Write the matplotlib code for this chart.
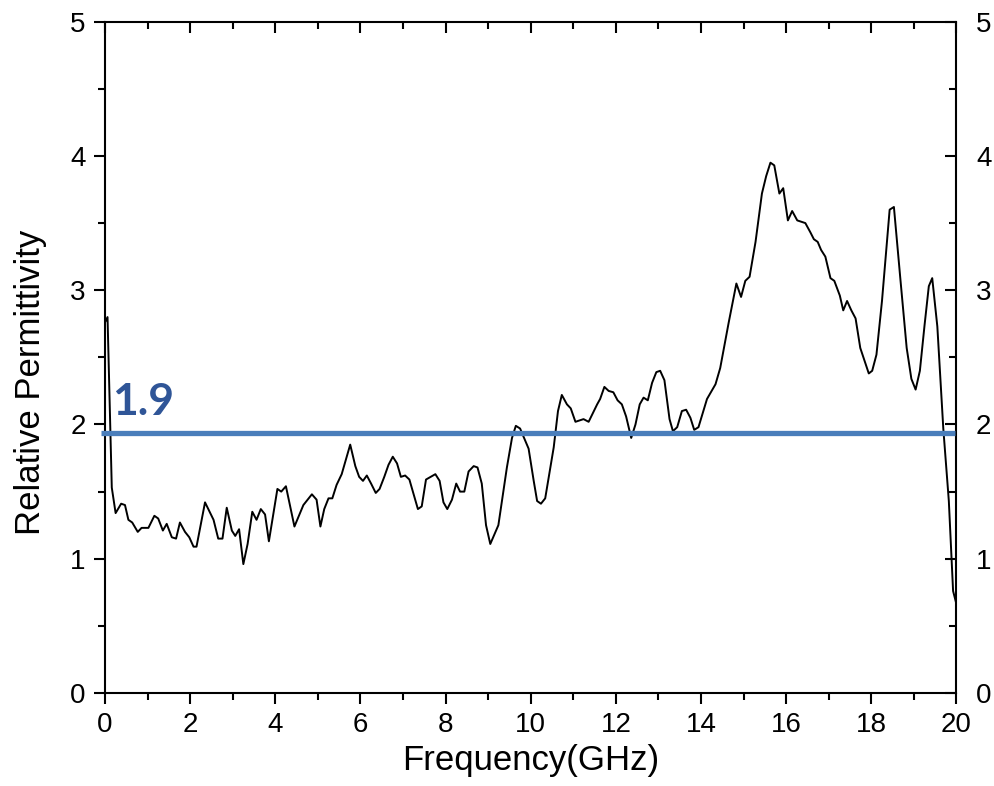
import matplotlib
matplotlib.use("Agg")
import matplotlib.pyplot as plt
from matplotlib.ticker import MultipleLocator

plt.rcParams['font.family'] = ['Liberation Sans', 'DejaVu Sans']

freq = [0.00, 0.06, 0.16, 0.25, 0.38, 0.47, 0.55, 0.64, 0.77, 0.86, 1.02, 1.16, 1.25, 1.36, 1.45,
        1.57, 1.67, 1.76, 1.88, 1.98, 2.08, 2.15, 2.35, 2.55, 2.66, 2.76, 2.86, 2.98, 3.06, 3.15,
        3.25, 3.35, 3.46, 3.56, 3.66, 3.76, 3.85, 4.05, 4.14, 4.25, 4.45, 4.66, 4.86, 4.97, 5.06,
        5.15, 5.25, 5.34, 5.44, 5.56, 5.76, 5.88, 5.97, 6.06, 6.15, 6.25, 6.36, 6.45, 6.56, 6.66,
        6.76, 6.86, 6.95, 7.05, 7.15, 7.25, 7.35, 7.44, 7.54, 7.65, 7.76, 7.86, 7.95, 8.04, 8.15,
        8.25, 8.34, 8.44, 8.54, 8.66, 8.75, 8.85, 8.95, 9.05, 9.24, 9.44, 9.56, 9.65, 9.75, 9.95,
        10.07, 10.15, 10.24, 10.34, 10.54, 10.64, 10.73, 10.85, 10.94, 11.05, 11.24, 11.36, 11.56,
        11.63, 11.73, 11.83, 11.94, 12.04, 12.14, 12.24, 12.36, 12.46, 12.56, 12.65, 12.75, 12.85,
        12.95, 13.04, 13.14, 13.26, 13.34, 13.44, 13.55, 13.65, 13.75, 13.84, 13.94, 14.14, 14.34,
        14.45, 14.65, 14.83, 14.94, 15.04, 15.14, 15.28, 15.43, 15.53, 15.63, 15.72, 15.84, 15.93,
        16.04, 16.14, 16.26, 16.45, 16.57, 16.65, 16.74, 16.82, 16.92, 17.04, 17.13, 17.26, 17.34,
        17.43, 17.53, 17.63, 17.74, 17.94, 18.02, 18.12, 18.25, 18.43, 18.53, 18.68, 18.83, 18.94,
        19.04, 19.14, 19.25, 19.35, 19.43, 19.55, 19.69, 19.82, 19.92, 20.00]
permittivity = [2.76, 2.80, 1.53, 1.34, 1.41, 1.40, 1.29, 1.27, 1.20, 1.23, 1.23, 1.32, 1.30, 1.21, 1.26,
                1.16, 1.15, 1.27, 1.20, 1.16, 1.09, 1.09, 1.42, 1.29, 1.15, 1.15, 1.38, 1.21, 1.17, 1.22,
                0.96, 1.11, 1.35, 1.29, 1.37, 1.33, 1.13, 1.52, 1.50, 1.54, 1.24, 1.40, 1.48, 1.44, 1.24,
                1.37, 1.45, 1.45, 1.55, 1.63, 1.85, 1.69, 1.61, 1.58, 1.62, 1.56, 1.49, 1.52, 1.61, 1.70,
                1.76, 1.71, 1.61, 1.62, 1.59, 1.48, 1.37, 1.39, 1.59, 1.61, 1.63, 1.58, 1.42, 1.37, 1.44,
                1.56, 1.50, 1.50, 1.65, 1.69, 1.68, 1.56, 1.25, 1.11, 1.25, 1.68, 1.90, 1.99, 1.97, 1.82,
                1.58, 1.43, 1.41, 1.45, 1.83, 2.10, 2.22, 2.15, 2.12, 2.02, 2.04, 2.02, 2.15,
                2.19, 2.28, 2.25, 2.24, 2.18, 2.15, 2.06, 1.90, 2.00, 2.15, 2.20, 2.18, 2.31,
                2.39, 2.40, 2.33, 2.04, 1.95, 1.98, 2.10, 2.11, 2.05, 1.96, 1.98, 2.19, 2.30,
                2.42, 2.76, 3.05, 2.95, 3.07, 3.10, 3.36, 3.72, 3.85, 3.95, 3.93, 3.72, 3.76,
                3.52, 3.59, 3.52, 3.50, 3.43, 3.38, 3.36, 3.30, 3.25, 3.09, 3.07, 2.96, 2.85,
                2.92, 2.85, 2.79, 2.57, 2.38, 2.40, 2.52, 2.92, 3.60, 3.62, 3.09, 2.57, 2.34,
                2.26, 2.40, 2.74, 3.03, 3.09, 2.73, 1.97, 1.43, 0.76, 0.66]

ref_value = 1.936
ref_label = "1.9"

fig = plt.figure(figsize=(9.95, 7.86), dpi=100)
ax = fig.add_axes([0.1055, 0.1183, 0.8558, 0.8541])

ax.plot(freq, permittivity, color='black', lw=1.4, zorder=3)
ax.plot([-0.1, 19.97], [ref_value, ref_value], color='#4A7EBB', lw=3.8, clip_on=False, zorder=4,
        solid_capstyle='butt')
ax.text(0.17, 2.07, ref_label, color='#2F5597', fontsize=32, fontweight='bold', family=['Lato', 'DejaVu Sans'],
        ha='left', va='baseline', zorder=5)

ax.set_xlim(0, 20)
ax.set_ylim(0, 5)
ax.xaxis.set_major_locator(MultipleLocator(2))
ax.xaxis.set_minor_locator(MultipleLocator(1))
ax.yaxis.set_major_locator(MultipleLocator(1))
ax.yaxis.set_minor_locator(MultipleLocator(0.5))

for s in ax.spines.values():
    s.set_linewidth(1.5)

ax.tick_params(axis='both', which='major', direction='out', length=8, width=1.5, labelsize=20, pad=6)
ax.tick_params(axis='both', which='minor', direction='out', length=5, width=1.5)
ax.tick_params(axis='x', which='both', top=True, labeltop=False)
ax.tick_params(axis='y', which='both', right=True, labelright=True)

# inward ticks for top and right
for t in ax.xaxis.get_major_ticks() + ax.xaxis.get_minor_ticks():
    t.tick2line.set_marker(3)
for t in ax.yaxis.get_major_ticks() + ax.yaxis.get_minor_ticks():
    t.tick2line.set_marker(0)

ax.set_xlabel("Frequency(GHz)", fontsize=25, labelpad=4)
ax.set_ylabel("Relative Permittivity", fontsize=25, va='center')
ax.yaxis.set_label_coords(-0.088, 0.463)

fig.savefig("out.png", dpi=100)
